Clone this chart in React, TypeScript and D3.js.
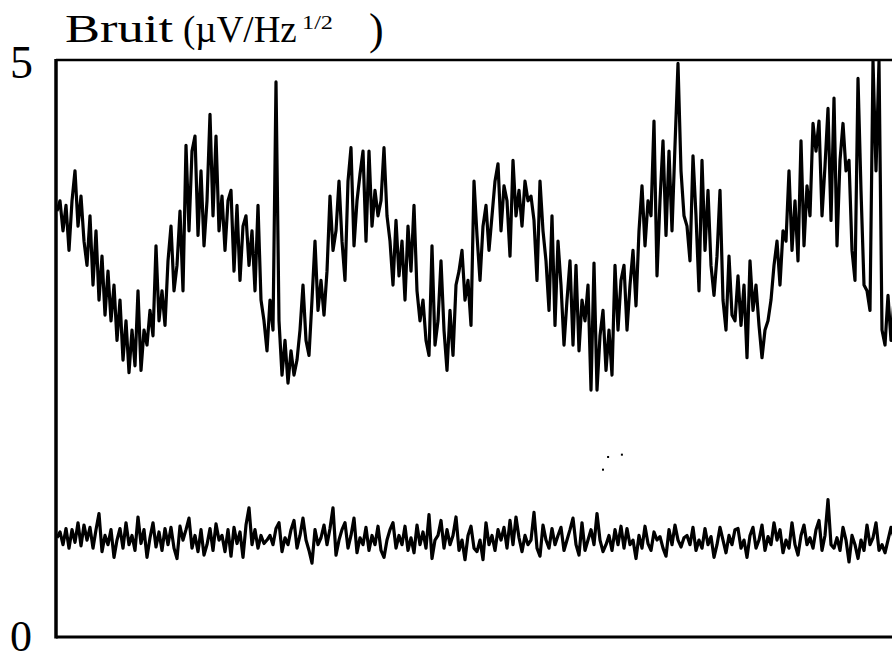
import React from "react";
import * as d3 from "d3";

// Upper trace (noise, µV/Hz^1/2), one sample every step
const upperValues: number[] = [
  3.69, 3.78, 3.52, 3.74, 3.35, 3.78, 4.04, 3.56, 3.82, 3.43,
  3.22, 3.65, 3.05, 3.52, 2.92, 3.30, 2.79, 3.17, 2.74, 3.05,
  2.57, 2.92, 2.40, 2.74, 2.29, 2.66, 2.35, 3.00, 2.31, 2.66,
  2.53, 2.83, 2.61, 3.39, 2.74, 3.00, 2.70, 3.26, 3.56, 3.00,
  3.22, 3.69, 3.00, 4.26, 3.52, 4.21, 4.34, 3.48, 4.04, 3.39,
  3.78, 4.53, 3.65, 4.34, 3.52, 3.82, 3.35, 3.78, 3.87, 3.17,
  3.74, 3.09, 3.56, 3.65, 3.22, 3.52, 3.00, 3.74, 2.92, 2.74,
  2.48, 2.92, 2.66, 4.81, 2.74, 2.27, 2.57, 2.20, 2.48, 2.27,
  2.40, 2.66, 3.05, 2.57, 2.44, 2.92, 3.43, 2.83, 3.09, 2.79,
  3.17, 3.82, 3.35, 3.52, 3.95, 3.43, 3.09, 3.95, 4.24, 3.39,
  3.78, 4.01, 4.21, 3.43, 4.21, 3.56, 3.87, 3.65, 3.78, 4.24,
  3.65, 3.43, 3.05, 3.61, 3.13, 3.43, 2.92, 3.56, 3.17, 3.74,
  3.00, 2.74, 2.92, 2.57, 2.44, 3.39, 2.53, 2.74, 3.26, 2.66,
  2.31, 2.83, 2.44, 3.05, 3.17, 3.35, 2.92, 3.09, 2.70, 3.95,
  3.48, 3.09, 3.56, 3.74, 3.35, 3.65, 3.95, 4.10, 3.52, 3.91,
  3.78, 3.30, 4.13, 3.65, 3.87, 3.56, 3.95, 3.78, 3.82, 3.61,
  3.09, 3.95, 3.52, 3.26, 2.83, 3.65, 2.70, 3.43, 3.05, 2.53,
  2.92, 3.26, 2.53, 3.22, 2.48, 2.92, 2.74, 3.05, 2.14, 3.24,
  2.14, 2.61, 2.83, 2.31, 2.66, 2.27, 3.22, 2.66, 3.09, 3.22,
  2.66, 3.05, 3.35, 2.87, 3.52, 3.91, 3.39, 3.78, 3.65, 4.47,
  3.13, 3.78, 4.30, 3.48, 4.21, 3.52, 4.26, 4.97, 4.04, 3.65,
  3.56, 3.26, 4.17, 3.65, 3.00, 4.13, 3.35, 3.87, 3.22, 2.96,
  3.30, 3.87, 2.92, 2.66, 3.30, 2.79, 2.74, 3.13, 2.70, 3.05,
  2.42, 3.26, 2.83, 3.05, 2.70, 2.42, 2.66, 2.74, 2.92, 3.22,
  3.43, 3.05, 3.52, 3.43, 4.04, 3.35, 3.78, 3.26, 4.30, 3.39,
  3.91, 3.65, 4.45, 4.21, 4.47, 3.65, 4.08, 4.58, 3.61, 4.67,
  3.39, 4.13, 4.45, 4.04, 4.13, 3.35, 3.09, 4.84, 3.87, 3.05,
  3.00, 2.83, 4.99, 4.04, 4.99, 2.66, 2.53, 2.96, 2.57, 2.92,
];

// Lower trace (noise floor)
const lowerValues: number[] = [
  0.86, 0.91, 0.80, 0.94, 0.77, 0.93, 0.82, 0.99, 0.79, 0.97,
  0.84, 0.95, 0.77, 0.93, 1.07, 0.74, 0.88, 0.80, 0.93, 0.69,
  0.84, 0.94, 0.77, 0.99, 0.80, 0.88, 0.75, 1.04, 0.81, 0.93,
  0.69, 0.86, 0.99, 0.78, 0.91, 0.75, 0.94, 0.80, 0.95, 0.77,
  0.68, 0.96, 0.84, 0.93, 1.03, 0.77, 0.88, 0.74, 0.93, 0.71,
  0.80, 0.94, 0.75, 0.98, 0.84, 0.88, 0.74, 0.93, 0.70, 0.95,
  0.81, 0.91, 0.69, 0.97, 1.12, 0.80, 0.93, 0.77, 0.88, 0.81,
  0.84, 0.88, 0.80, 0.94, 0.99, 0.74, 0.86, 0.80, 0.93, 1.01,
  0.77, 0.88, 1.03, 0.84, 0.75, 0.64, 0.93, 0.80, 0.86, 0.97,
  0.80, 0.94, 1.12, 0.71, 0.84, 0.93, 0.99, 0.77, 0.88, 1.03,
  0.73, 0.86, 0.80, 0.95, 0.75, 0.88, 0.80, 0.96, 0.75, 0.69,
  0.84, 0.93, 0.99, 0.77, 0.88, 0.80, 0.96, 0.75, 0.86, 0.73,
  0.97, 0.80, 0.91, 0.77, 1.06, 0.68, 0.84, 0.88, 1.01, 0.77,
  0.93, 0.80, 0.88, 1.04, 0.75, 0.84, 0.67, 0.88, 0.96, 0.77,
  0.74, 0.84, 0.67, 0.99, 0.80, 0.88, 0.75, 0.93, 0.84, 0.95,
  0.77, 1.01, 0.80, 1.04, 0.86, 0.74, 0.88, 0.80, 0.84, 1.08,
  0.77, 0.70, 0.97, 0.84, 0.77, 0.94, 0.80, 0.88, 0.95, 0.75,
  0.84, 0.93, 1.03, 0.80, 0.71, 0.99, 0.75, 0.84, 0.93, 0.80,
  1.07, 0.84, 0.74, 0.80, 0.88, 0.75, 0.93, 0.80, 0.96, 0.77,
  0.94, 0.80, 0.84, 0.68, 0.88, 0.77, 0.96, 0.81, 0.75, 0.91,
  0.84, 0.87, 0.77, 0.70, 0.93, 0.80, 0.97, 0.84, 0.78, 0.86,
  0.88, 0.80, 0.95, 0.75, 0.84, 0.77, 0.94, 0.80, 0.87, 0.69,
  0.80, 0.95, 0.84, 0.73, 0.88, 0.80, 0.93, 0.94, 0.77, 0.84,
  0.69, 0.88, 0.95, 0.77, 0.84, 0.97, 0.75, 0.87, 0.80, 0.99,
  0.84, 0.93, 0.73, 0.84, 0.77, 0.99, 0.80, 0.71, 0.88, 0.97,
  0.80, 0.86, 0.77, 0.93, 1.01, 0.75, 0.88, 1.19, 0.80, 0.77,
  0.86, 0.75, 0.95, 0.84, 0.65, 0.88, 0.80, 0.68, 0.84, 0.75,
  0.97, 0.80, 0.86, 0.99, 0.75, 0.80, 0.73, 0.84, 0.95, 0.86,
];

// Stray specks in the plot (sample index, value)
const speckIndex: number[] = [182, 183.7, 188.3];
const speckValues: number[] = [1.45, 1.56, 1.58];

const yTickLabels: string[] = ["0", "5"];
const yTickValues: number[] = [0, 5];

export default function App() {
  const W = 892;
  const H = 661;
  const left = 56;
  const top = 60;
  const bottom = 637;

  const n = upperValues.length;
  const x = d3.scaleLinear().domain([0, n - 1]).range([57, 894]);
  const y = d3.scaleLinear().domain([0, 5]).range([bottom, top]);

  const line = d3
    .line<number>()
    .x((_, i) => x(i))
    .y((d) => y(Math.min(d, 5)));

  const font = "'Liberation Serif', 'Times New Roman', Times, serif";

  return (
    <svg
      width={W}
      height={H}
      viewBox={`0 0 ${W} ${H}`}
      style={{ position: "absolute", left: 0, top: 0, background: "#fff" }}
    >
      <rect x={0} y={0} width={W} height={H} fill="#fff" />
      {/* frame */}
      <line x1={left} y1={top} x2={W} y2={top} stroke="#000" strokeWidth={2.5} />
      <line x1={left} y1={top - 1} x2={left} y2={bottom + 1.5} stroke="#000" strokeWidth={3.5} />
      <line x1={left} y1={bottom} x2={W} y2={bottom} stroke="#000" strokeWidth={3} />

      {/* traces */}
      <path d={line(upperValues) ?? ""} fill="none" stroke="#000" strokeWidth={3.2} strokeLinejoin="round" />
      <path d={line(lowerValues) ?? ""} fill="none" stroke="#000" strokeWidth={3.2} strokeLinejoin="round" />

      {speckIndex.map((si, i) => (
        <rect key={i} x={x(si) - 1} y={y(speckValues[i]) - 1} width={2} height={2} fill="#000" />
      ))}

      {/* y tick labels */}
      {yTickValues.map((v, i) => (
        <text
          key={v}
          x={10}
          y={v === 0 ? 651 : 78}
          fontFamily={font}
          fontSize={v === 0 ? 44 : 46}
          fill="#000"
        >
          {yTickLabels[i]}
        </text>
      ))}

      {/* title */}
      <text x={65} y={42} fontFamily={font} fontSize={40} textLength={108} lengthAdjust="spacingAndGlyphs" fill="#000">
        Bruit
      </text>
      <text x={183} y={42} fontFamily={font} fontSize={37} fill="#000">
        (µV/Hz
      </text>
      <text x={302} y={29} fontFamily={font} fontSize={19} textLength={31} lengthAdjust="spacingAndGlyphs" fill="#000">
        1/2
      </text>
      <text x={369} y={44} fontFamily={font} fontSize={44} fill="#000">
        )
      </text>
    </svg>
  );
}
